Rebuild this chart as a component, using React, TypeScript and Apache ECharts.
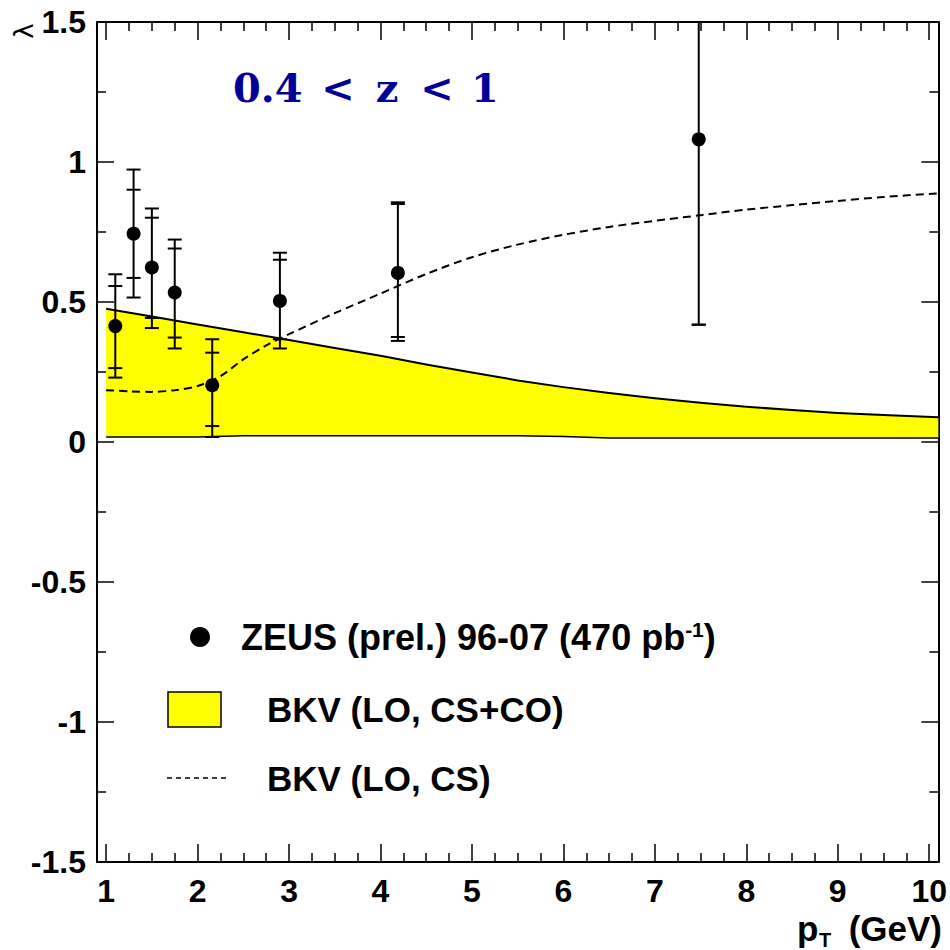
import { useEffect, useRef } from 'react'
import * as echarts from 'echarts'

// ZEUS points (pT, lambda) with inner (stat) and outer (total) errors
const ptX = [1.1, 1.3, 1.5, 1.75, 2.16, 2.9, 4.19, 7.48]
const lambdaY = [0.414, 0.744, 0.623, 0.534, 0.203, 0.504, 0.604, 1.081]
const statLo = [0.264, 0.586, 0.443, 0.373, 0.057, 0.367, 0.375, 0.419]
const statHi = [0.557, 0.901, 0.801, 0.691, 0.319, 0.651, 0.85, 1.75]
const totLo = [0.23, 0.516, 0.407, 0.334, 0.018, 0.334, 0.361, 0.419]
const totHi = [0.599, 0.973, 0.834, 0.723, 0.367, 0.676, 0.856, 1.75]

// BKV (LO, CS+CO) band
const bandX = [1.0, 1.5, 2.0, 2.5, 3.0, 3.5, 4.0, 4.5, 5.0, 5.5, 6.0, 6.5, 7.0, 7.5, 8.0, 8.5, 9.0, 9.5, 10.1]
const bandUpper = [0.476, 0.448, 0.42, 0.392, 0.364, 0.336, 0.308, 0.277, 0.248, 0.22, 0.196, 0.175, 0.156, 0.14, 0.126, 0.114, 0.104, 0.096, 0.088]
const bandLower = [0.018, 0.018, 0.018, 0.022, 0.022, 0.022, 0.022, 0.022, 0.022, 0.022, 0.02, 0.014, 0.014, 0.014, 0.014, 0.014, 0.014, 0.014, 0.014]

// BKV (LO, CS) dashed curve
const csX = [1.0, 1.25, 1.5, 1.75, 2.0, 2.25, 2.5, 2.75, 3.0, 3.5, 4.0, 4.5, 5.0, 5.5, 6.0, 6.5, 7.0, 7.5, 8.0, 8.5, 9.0, 9.5, 10.1]
const csY = [0.185, 0.181, 0.179, 0.185, 0.2, 0.235, 0.295, 0.345, 0.385, 0.46, 0.53, 0.6, 0.66, 0.705, 0.74, 0.768, 0.79, 0.81, 0.83, 0.846, 0.861, 0.875, 0.888]

const xMajorTicks = [1, 2, 3, 4, 5, 6, 7, 8, 9, 10]
const xMinorTicks: number[] = []
for (let i = 1; i < 10; i++) {
  xMinorTicks.push(i + 0.25, i + 0.5, i + 0.75)
}

const X_MIN = 0.9
const X_MAX = 10.1
const Y_MIN = -1.5
const Y_MAX = 1.5

const labelFont = {
  fontFamily: 'Liberation Sans',
  fontWeight: 'bold',
  color: '#000',
}

function xAxisDef(position: 'top' | 'bottom', major: boolean, withLine: boolean, withLabel: boolean) {
  return {
    type: 'value',
    position,
    min: X_MIN,
    max: X_MAX,
    axisLine: { show: withLine, onZero: false, lineStyle: { color: '#000', width: 2 } },
    axisTick: {
      show: true,
      inside: true,
      length: major ? 18 : 9,
      customValues: major ? xMajorTicks : xMinorTicks,
      lineStyle: { color: '#000', width: 1.5 },
    },
    axisLabel: withLabel
      ? { show: true, customValues: xMajorTicks, fontSize: 32, lineHeight: 26, margin: 16, ...labelFont }
      : { show: false },
    splitLine: { show: false },
  }
}

function yAxisDef(position: 'left' | 'right', withLabel: boolean) {
  return {
    type: 'value',
    position,
    min: Y_MIN,
    max: Y_MAX,
    interval: 0.5,
    axisLine: { show: true, onZero: false, lineStyle: { color: '#000', width: 2 } },
    axisTick: { show: true, inside: true, length: 17, lineStyle: { color: '#000', width: 1.5 } },
    minorTick: { show: true, splitNumber: 2, length: 9, lineStyle: { color: '#000', width: 1.5 } },
    axisLabel: withLabel ? { show: true, fontSize: 32, margin: 11, ...labelFont } : { show: false },
    splitLine: { show: false },
    minorSplitLine: { show: false },
  }
}

const titleFont = 'bold 40px "DejaVu Serif"'
const titleColor = '#000099'

export default function App() {
  const chartRef = useRef<HTMLDivElement | null>(null)

  useEffect(() => {
    if (!chartRef.current) {
      return
    }

    const chart = echarts.init(chartRef.current, null, { renderer: 'svg' })
    chart.setOption({
      animation: false,
      backgroundColor: '#fff',
      grid: { left: 97, top: 22, width: 844, height: 840, containLabel: false },
      xAxis: [
        xAxisDef('bottom', true, true, true),
        xAxisDef('bottom', false, false, false),
        xAxisDef('top', true, true, false),
        xAxisDef('top', false, false, false),
      ],
      yAxis: [yAxisDef('left', true), yAxisDef('right', false)],
      series: [
        {
          name: 'BKV (LO, CS+CO)',
          type: 'custom',
          z: 1,
          data: [[bandX[0], bandUpper[0]]],
          renderItem: (params: any, api: any) => {
            if (params.dataIndex !== 0) {
              return
            }
            const up = bandX.map((x, i) => api.coord([x, bandUpper[i]]))
            const lo = bandX.map((x, i) => api.coord([x, bandLower[i]]))
            return {
              type: 'group',
              children: [
                {
                  type: 'polygon',
                  shape: { points: [...up, ...lo.slice().reverse()] },
                  style: { fill: '#ffff00', stroke: 'none' },
                },
                { type: 'polyline', shape: { points: up }, style: { stroke: '#000', lineWidth: 2, fill: 'none' } },
                { type: 'polyline', shape: { points: lo }, style: { stroke: '#000', lineWidth: 1.5, fill: 'none' } },
              ],
            }
          },
        },
        {
          name: 'BKV (LO, CS)',
          type: 'line',
          z: 3,
          smooth: 0.3,
          showSymbol: false,
          lineStyle: { color: '#000', width: 2, type: [8, 5] },
          data: csX.map((x, i) => [x, csY[i]]),
        },
        {
          name: 'errors',
          type: 'custom',
          z: 4,
          clip: true,
          data: ptX.map((x, i) => [x, lambdaY[i], statLo[i], statHi[i], totLo[i], totHi[i]]),
          renderItem: (_params: any, api: any) => {
            const x = api.value(0)
            const style = { stroke: '#000', lineWidth: 2 }
            const top = api.coord([x, Math.min(api.value(5), Y_MAX)])
            const bot = api.coord([x, api.value(4)])
            const children: any[] = [
              { type: 'line', shape: { x1: top[0], y1: top[1], x2: bot[0], y2: bot[1] }, style },
            ]
            for (const dim of [2, 3, 4, 5]) {
              const v = api.value(dim)
              if (v > Y_MAX) continue
              const p = api.coord([x, v])
              children.push({ type: 'line', shape: { x1: p[0] - 7, y1: p[1], x2: p[0] + 7, y2: p[1] }, style })
            }
            return { type: 'group', children }
          },
        },
        {
          name: 'ZEUS (prel.) 96-07',
          type: 'scatter',
          z: 5,
          symbol: 'circle',
          symbolSize: 14,
          itemStyle: { color: '#000', opacity: 1 },
          data: ptX.map((x, i) => [x, lambdaY[i]]),
        },
      ],
      graphic: [
        // "0.4 < z < 1" with the wide spacing of the original
        { type: 'text', x: 233, y: 87, style: { text: '0.4', font: titleFont, fill: titleColor, verticalAlign: 'middle', textVerticalAlign: 'middle' } },
        { type: 'text', x: 338, y: 87, style: { text: '<', font: titleFont, fill: titleColor, align: 'center', textAlign: 'center', verticalAlign: 'middle', textVerticalAlign: 'middle' } },
        { type: 'text', x: 387, y: 87, style: { text: 'z', font: titleFont, fill: titleColor, align: 'center', textAlign: 'center', verticalAlign: 'middle', textVerticalAlign: 'middle' } },
        { type: 'text', x: 437, y: 87, style: { text: '<', font: titleFont, fill: titleColor, align: 'center', textAlign: 'center', verticalAlign: 'middle', textVerticalAlign: 'middle' } },
        { type: 'text', x: 485, y: 87, style: { text: '1', font: titleFont, fill: titleColor, align: 'center', textAlign: 'center', verticalAlign: 'middle', textVerticalAlign: 'middle' } },
        {
          type: 'text',
          x: 24,
          y: 31,
          rotation: Math.PI / 2,
          style: {
            x: 0,
            y: 0,
            text: 'λ',
            font: '26px "DejaVu Sans"',
            fill: '#000',
            align: 'center',
            verticalAlign: 'middle',
            textAlign: 'center',
            textVerticalAlign: 'middle',
          },
        },
        // legend
        { type: 'circle', shape: { cx: 200, cy: 637, r: 10 }, style: { fill: '#000' } },
        {
          type: 'text',
          x: 241,
          y: 637,
          style: {
            text: '{n|ZEUS (prel.) 96-07 (470 pb}{s|-1}{n|)}',
            verticalAlign: 'middle',
            textVerticalAlign: 'middle',
            rich: {
              n: { fontFamily: 'Liberation Sans', fontWeight: 'bold', fontSize: 36, fill: '#000', color: '#000' },
              s: {
                fontFamily: 'Liberation Sans',
                fontWeight: 'bold',
                fontSize: 21,
                fill: '#000',
                color: '#000',
                verticalAlign: 'top',
              },
            },
          },
        },
        {
          type: 'rect',
          shape: { x: 168, y: 692, width: 53, height: 35 },
          style: { fill: '#ffff00', stroke: '#000', lineWidth: 1.5 },
        },
        {
          type: 'text',
          x: 267,
          y: 709,
          style: {
            text: 'BKV (LO, CS+CO)',
            font: 'bold 35px "Liberation Sans"',
            fill: '#000',
            verticalAlign: 'middle',
            textVerticalAlign: 'middle',
          },
        },
        {
          type: 'line',
          shape: { x1: 167, y1: 778, x2: 230, y2: 778 },
          style: { stroke: '#000', lineWidth: 1.5, lineDash: [5, 4] },
        },
        {
          type: 'text',
          x: 267,
          y: 778,
          style: {
            text: 'BKV (LO, CS)',
            font: 'bold 35px "Liberation Sans"',
            fill: '#000',
            verticalAlign: 'middle',
            textVerticalAlign: 'middle',
          },
        },
        // x axis title p_T (GeV)
        {
          type: 'text',
          x: 797,
          y: 928,
          style: {
            text: 'p',
            font: 'bold 35px "Liberation Sans"',
            lineHeight: 26,
            fill: '#000',
            verticalAlign: 'middle',
            textVerticalAlign: 'middle',
          },
        },
        {
          type: 'text',
          x: 819,
          y: 940,
          style: {
            text: 'T',
            font: 'bold 20px "Liberation Sans"',
            lineHeight: 16,
            fill: '#000',
            verticalAlign: 'middle',
            textVerticalAlign: 'middle',
          },
        },
        {
          type: 'text',
          x: 942,
          y: 928,
          style: {
            text: '(GeV)',
            font: 'bold 35px "Liberation Sans"',
            lineHeight: 26,
            fill: '#000',
            align: 'right',
            textAlign: 'right',
            verticalAlign: 'middle',
            textVerticalAlign: 'middle',
          },
        },
      ],
    })

    return () => {
      chart.dispose()
    }
  }, [])

  return (
    <div
      ref={chartRef}
      style={{ position: 'fixed', left: 0, top: 0, width: 950, height: 950, background: '#fff' }}
    />
  )
}
